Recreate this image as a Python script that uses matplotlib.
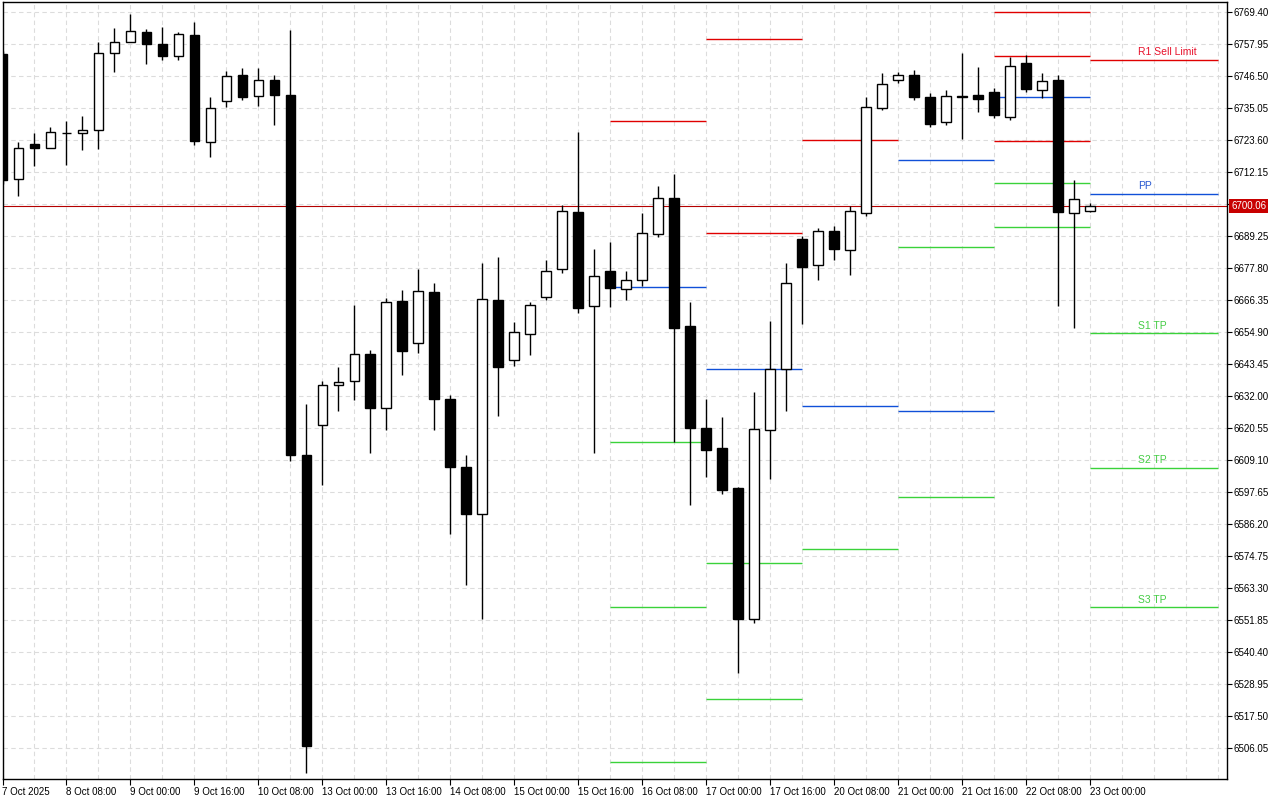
import numpy as np
import matplotlib
matplotlib.use("Agg")
import matplotlib.pyplot as plt

# ---------------- data ----------------
opens = [6754.4, 6709.6, 6722.2, 6720.7, 6726.0, 6726.0, 6727.2, 6754.7, 6758.6, 6762.2,
         6758.0, 6753.7, 6761.2, 6722.9, 6737.6, 6746.9, 6739.3, 6745.1, 6739.9, 6610.9,
         6621.6, 6635.9, 6637.4, 6647.0, 6627.7, 6666.0, 6651.0, 6669.2, 6631.1, 6606.6,
         6589.8, 6666.3, 6644.9, 6654.2, 6667.6, 6677.3, 6698.0, 6664.2, 6676.7, 6670.3,
         6673.5, 6689.9, 6702.8, 6657.0, 6620.6, 6613.4, 6599.1, 6552.3, 6619.7, 6641.6,
         6688.2, 6678.9, 6691.0, 6684.3, 6697.5, 6735.1, 6745.1, 6746.9, 6739.0, 6730.0,
         6739.0, 6739.7, 6740.8, 6731.8, 6751.2, 6741.5, 6745.1, 6697.5, 6698.4]
highs = [6755.5, 6722.9, 6726.1, 6728.3, 6730.4, 6732.2, 6758.6, 6763.7, 6768.7, 6763.3,
         6764.0, 6762.2, 6765.8, 6739.0, 6748.3, 6749.4, 6749.4, 6746.9, 6763.0, 6629.1,
         6637.4, 6642.4, 6664.7, 6648.6, 6667.1, 6669.8, 6677.6, 6672.3, 6632.4, 6611.1,
         6679.6, 6681.6, 6658.5, 6665.5, 6680.8, 6700.5, 6726.5, 6684.6, 6687.1, 6676.7,
         6697.5, 6707.1, 6711.4, 6665.6, 6631.0, 6624.5, 6599.4, 6633.4, 6658.8, 6679.6,
         6689.3, 6692.1, 6692.8, 6700.0, 6739.0, 6747.6, 6747.9, 6748.6, 6740.4, 6741.5,
         6754.7, 6749.7, 6742.2, 6753.3, 6754.0, 6747.6, 6746.9, 6709.3, 6701.2]
lows = [6708.0, 6703.6, 6714.3, 6720.6, 6714.7, 6720.0, 6720.4, 6747.9, 6758.6, 6750.8,
        6752.2, 6752.2, 6721.8, 6717.5, 6735.4, 6737.9, 6735.8, 6729.0, 6608.8, 6497.1,
        6600.2, 6626.5, 6630.7, 6611.8, 6620.0, 6639.7, 6647.4, 6619.8, 6582.8, 6564.4,
        6552.4, 6625.0, 6642.6, 6646.7, 6666.4, 6676.0, 6661.7, 6611.7, 6663.8, 6666.4,
        6671.4, 6688.9, 6615.7, 6593.1, 6603.1, 6597.1, 6533.0, 6550.9, 6602.4, 6626.8,
        6657.9, 6673.5, 6680.7, 6675.3, 6696.4, 6734.3, 6744.0, 6737.9, 6728.3, 6729.0,
        6724.0, 6733.6, 6731.5, 6730.8, 6740.8, 6738.6, 6664.2, 6656.3, 6698.0]
closes = [6709.3, 6720.7, 6720.7, 6726.5, 6726.0, 6727.1, 6754.7, 6758.6, 6762.6, 6758.0,
          6753.7, 6761.5, 6723.3, 6735.1, 6746.5, 6739.0, 6745.1, 6739.7, 6610.9, 6506.9,
          6635.8, 6637.2, 6647.0, 6627.7, 6665.6, 6648.1, 6669.6, 6630.9, 6606.6, 6589.8,
          6666.7, 6642.4, 6654.9, 6664.6, 6676.7, 6698.4, 6663.5, 6675.0, 6670.7, 6673.5,
          6690.3, 6702.8, 6656.5, 6620.6, 6612.8, 6598.5, 6552.3, 6620.1, 6641.8, 6672.3,
          6678.3, 6691.0, 6684.6, 6698.2, 6735.4, 6743.6, 6746.9, 6739.0, 6729.3, 6739.3,
          6739.3, 6738.3, 6732.5, 6750.1, 6741.8, 6744.7, 6697.8, 6702.5, 6700.06]

tick_labels = ["7 Oct 2025", "8 Oct 08:00", "9 Oct 00:00", "9 Oct 16:00", "10 Oct 08:00",
               "13 Oct 00:00", "13 Oct 16:00", "14 Oct 08:00", "15 Oct 00:00", "15 Oct 16:00",
               "16 Oct 08:00", "17 Oct 00:00", "17 Oct 16:00", "20 Oct 08:00", "21 Oct 00:00",
               "21 Oct 16:00", "22 Oct 08:00", "23 Oct 00:00"]
price_ticks = [6506.05, 6517.50, 6528.95, 6540.40, 6551.85, 6563.30, 6574.75, 6586.20,
               6597.65, 6609.10, 6620.55, 6632.00, 6643.45, 6654.90, 6666.35, 6677.80,
               6689.25, 6700.70, 6712.15, 6723.60, 6735.05, 6746.50, 6757.95, 6769.40]
hidden_tick = 6700.70   # covered by the current-price box
current_price = 6700.06

# pivot levels per day segment (bar index start / end)
seg_start = [38, 44, 50, 56, 62, 68]
seg_end = [44, 50, 56, 62, 68, 76]
R2 = [np.nan, 6759.9, np.nan, np.nan, 6769.6, np.nan]
R1 = [6730.4, 6690.3, 6723.6, np.nan, 6753.8, 6752.2]
PP = [6671.2, 6641.8, 6628.4, 6716.4, 6739.0, 6704.3]
S1 = [6615.7, 6572.2, 6577.2, 6685.3, 6723.3, 6654.4]
S2 = [6556.4, 6523.7, np.nan, 6626.8, 6708.3, 6606.4]
S3 = [6501.0, np.nan, np.nan, 6596.0, 6692.6, 6556.4]
# colour of each segment as seen in the picture (r = red, b = blue, g = green)
R2_col = ["r", "r", "r", "r", "r", "r"]
R1_col = ["r", "r", "r", "r", "r", "r"]
PP_col = ["b", "b", "b", "b", "b", "b"]
S1_col = ["g", "g", "g", "g", "r", "g"]
S2_col = ["g", "g", "g", "b", "g", "g"]
S3_col = ["g", "g", "g", "g", "g", "g"]
last_labels = {"R1": "R1 Sell Limit", "PP": "PP", "S1": "S1 TP", "S2": "S2 TP", "S3": "S3 TP"}
label_x = 71.0

# ---------------- figure ----------------
W, H = 1280, 800
fig = plt.figure(figsize=(W / 100, H / 100), dpi=100)
ax_l, ax_r, ax_t, ax_b = 2.5, 1227.0, 2.0, 779.0
ax = fig.add_axes([ax_l / W, 1 - ax_b / H, (ax_r - ax_l) / W, (ax_b - ax_t) / H])

font = "Liberation Sans"
n = len(opens)
idx = np.arange(n)
o = np.array(opens); c = np.array(closes); hi = np.array(highs); lo = np.array(lows)

ax.set_xlim(0.0125, 76.54)
ax.set_ylim(6495.0, 6773.0)

# grid
grid_kw = dict(color="#dcdcdc", lw=0.8, ls=(0, (4, 3)), zorder=0)
for gx in np.arange(0, 78, 2):
    ax.axvline(gx, **grid_kw)
for gy in price_ticks:
    ax.axhline(gy, **grid_kw)

# current price line
ax.axhline(current_price, color="#B40000", lw=0.8, zorder=1)

# candles
ax.vlines(idx, lo, hi, color="black", lw=1.0, zorder=3)
bull = c >= o
body_w = 0.62
ax.bar(idx[bull], np.maximum(c[bull] - o[bull], 0.25), bottom=o[bull], width=body_w,
       color="white", edgecolor="black", linewidth=1.0, zorder=4)
ax.bar(idx[~bull], o[~bull] - c[~bull], bottom=c[~bull], width=body_w,
       color="black", edgecolor="black", linewidth=1.0, zorder=4)

# pivot segments
palette = {"r": "#E00000", "b": "#1050D8", "g": "#3AD23A"}
levels = [("R2", R2, R2_col), ("R1", R1, R1_col), ("PP", PP, PP_col),
          ("S1", S1, S1_col), ("S2", S2, S2_col), ("S3", S3, S3_col)]
text_cols = {"R1": "#E8102A", "PP": "#2858D0", "S1": "#44CC44", "S2": "#44CC44", "S3": "#44CC44"}
for name, vals, cols in levels:
    for s, e, v, cc in zip(seg_start, seg_end, vals, cols):
        if np.isnan(v):
            continue
        ax.hlines(v, s, e, color=palette[cc], lw=1.0, zorder=2)
    v_last = vals[-1]
    if name in last_labels and not np.isnan(v_last):
        ax.text(label_x, v_last + 1.0, last_labels[name],
                ha="left", va="bottom", fontsize=7.5, color=text_cols[name],
                family=font, zorder=5)

# axes styling
for sp in ax.spines.values():
    sp.set_color("black")
    sp.set_linewidth(1.0)
ax.yaxis.tick_right()
ax.set_yticks(price_ticks)
ax.set_yticklabels(["" if abs(p - hidden_tick) < 1e-6 else f"{p:.2f}" for p in price_ticks])
ax.tick_params(axis="y", direction="out", length=3.5, width=0.8, pad=1.5,
               labelsize=7, colors="black")
ax.set_xticks(np.arange(0, n, 4))
ax.set_xticklabels(tick_labels)
ax.tick_params(axis="x", direction="out", length=4, width=0.8, pad=1.5,
               labelsize=7, colors="black")
for lab in ax.get_xticklabels() + ax.get_yticklabels():
    lab.set_family(font)
for lab in ax.get_xticklabels():
    lab.set_ha("left")

# current price label
ax.annotate(f"{current_price:.2f}", xy=(1.0, current_price),
            xycoords=("axes fraction", "data"), xytext=(3, 0), textcoords="offset points",
            ha="left", va="center", fontsize=7, color="white", family=font,
            bbox=dict(boxstyle="square,pad=0.18", fc="#C80000", ec="none"),
            annotation_clip=False, zorder=6)

fig.savefig("out.png", dpi=100, facecolor="white")
